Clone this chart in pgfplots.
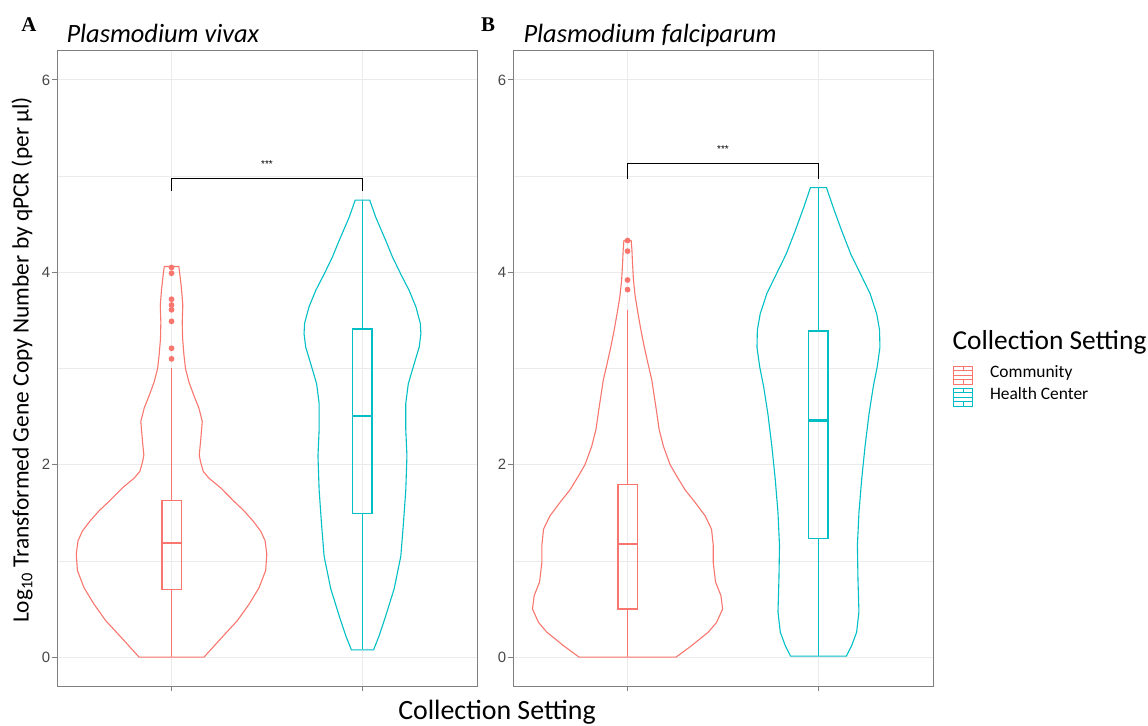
\documentclass[border=0pt]{standalone}
\usepackage{pgfplots}
\usepackage{pgfplotstable}
\pgfplotsset{compat=1.18}
\usepgfplotslibrary{statistics}
\usepackage{fontspec}
\setmainfont{Carlito}
\newfontfamily\tickfont{Liberation Sans}
\newfontfamily\letterfont{Liberation Serif}
\definecolor{comm}{HTML}{F8766D}
\definecolor{hc}{HTML}{00BFC4}
\definecolor{gridc}{HTML}{EBEBEB}
\definecolor{framec}{HTML}{7F7F7F}

% violin outlines: y value and half width (category units)
\pgfplotstableread{
y w
0 0
0 0.170
0.21 0.266
0.38 0.345
0.55 0.406
0.72 0.458
0.90 0.493
1.07 0.499
1.21 0.490
1.31 0.467
1.41 0.429
1.52 0.380
1.62 0.327
1.76 0.257
1.86 0.196
1.93 0.166
2.03 0.152
2.10 0.145
2.24 0.152
2.45 0.161
2.59 0.143
2.72 0.117
2.86 0.091
3.00 0.073
3.14 0.065
3.31 0.058
3.48 0.056
3.66 0.059
3.83 0.052
3.97 0.044
4.06 0.038
4.06 0
}\vivaxComm

\pgfplotstableread{
y w
0.076 0
0.076 0.058
0.22 0.087
0.43 0.122
0.71 0.166
1.05 0.201
1.40 0.215
1.74 0.227
2.09 0.233
2.36 0.227
2.64 0.227
2.84 0.240
3.05 0.271
3.22 0.297
3.36 0.306
3.47 0.303
3.64 0.280
3.81 0.245
3.98 0.201
4.16 0.157
4.33 0.122
4.57 0.070
4.75 0.038
4.75 0
}\vivaxHC

\pgfplotstableread{
y w
0 0
0 0.254
0.12 0.336
0.26 0.423
0.36 0.466
0.50 0.498
0.64 0.489
0.78 0.461
0.98 0.449
1.16 0.449
1.33 0.440
1.47 0.406
1.61 0.353
1.74 0.301
1.88 0.258
2.00 0.223
2.19 0.188
2.37 0.165
2.54 0.153
2.88 0.127
3.06 0.106
3.23 0.087
3.40 0.070
3.58 0.054
3.75 0.040
3.92 0.031
4.09 0.026
4.23 0.023
4.33 0.019
4.33 0
}\falcComm

\pgfplotstableread{
y w
0.01 0
0.01 0.146
0.12 0.174
0.26 0.200
0.47 0.212
0.81 0.207
1.16 0.204
1.50 0.212
1.84 0.226
2.19 0.244
2.53 0.265
2.81 0.287
3.02 0.308
3.22 0.322
3.40 0.320
3.57 0.305
3.78 0.270
3.98 0.221
4.19 0.169
4.43 0.122
4.67 0.078
4.88 0.042
4.88 0
}\falcHC

\pgfplotsset{
  vstyle/.style={
    scale only axis, width=420bp, height=635bp,
    xmin=0.4, xmax=2.6, ymin=-0.3, ymax=6.3,
    xtick={1,2}, xticklabels={}, ytick={0,2,4,6}, minor ytick={1,3,5},
    grid=both,
    major grid style={gridc, line width=1bp},
    minor grid style={gridc, line width=0.6bp},
    axis line style={draw=framec, line width=1bp},
    tick pos=left, tick align=outside,
    major tick length=5bp, minor tick length=0pt,
    tick style={framec, line width=1bp},
    yticklabel style={font=\tickfont\fontsize{15}{18}\selectfont, text=black!72, inner sep=1.5bp},
    /pgf/number format/assume math mode=true,
    boxplot/draw direction=y,
    clip=false,
  },
  vline/.style={line width=1.1bp, forget plot},
  bx/.style={line width=1.1bp, forget plot, mark=*, mark size=2.3bp,
    mark options={solid, fill=#1, draw=#1}, draw=#1},
  boxplot/every median/.style={line width=2.2bp},
  legkey/.style={legend image code/.code={
      \draw[##1, line width=1bp] (0bp,-9bp) rectangle (19bp,9bp);
      \draw[##1, line width=1bp] (0bp,-4.5bp) -- (19bp,-4.5bp);
      \draw[##1, line width=1.6bp] (0bp,0bp) -- (19bp,0bp);
      \draw[##1, line width=1bp] (0bp,4.5bp) -- (19bp,4.5bp);
      \draw[##1, line width=1bp] (9.5bp,-9bp) -- (9.5bp,-4.5bp);
      \draw[##1, line width=1bp] (9.5bp,4.5bp) -- (9.5bp,9bp);
  }},
}

\begin{document}
\begin{tikzpicture}
\useasboundingbox (0,0) rectangle (1148bp,726bp);

% ---------------- Panel A ----------------
\begin{axis}[vstyle, at={(57bp,40bp)}, anchor=south west]
\addplot[comm, vline] table[x expr=1+\thisrow{w}, y=y] {\vivaxComm};
\addplot[comm, vline] table[x expr=1-\thisrow{w}, y=y] {\vivaxComm};
\addplot[hc, vline] table[x expr=2+\thisrow{w}, y=y] {\vivaxHC};
\addplot[hc, vline] table[x expr=2-\thisrow{w}, y=y] {\vivaxHC};
\addplot[bx=comm, boxplot prepared={draw position=1, lower whisker=0,
  lower quartile=0.70, median=1.19, upper quartile=1.63, upper whisker=3.00,
  box extend=0.1, whisker extend=0}]
  table[row sep=\\, y index=0] {data\\4.05\\3.99\\3.72\\3.66\\3.61\\3.49\\3.21\\3.10\\};
\addplot[bx=hc, boxplot prepared={draw position=2, lower whisker=0.08,
  lower quartile=1.49, median=2.51, upper quartile=3.41, upper whisker=4.75,
  box extend=0.1, whisker extend=0}] coordinates {};
\addplot[black, line width=0.8bp, forget plot] coordinates {(1,4.85) (1,4.98) (2,4.98) (2,4.85)};
\node[font=\tickfont\fontsize{10}{12}\selectfont, anchor=base] at (axis cs:1.5,5.09) {***};
\end{axis}

% ---------------- Panel B ----------------
\begin{axis}[vstyle, at={(513bp,40bp)}, anchor=south west,
  legend style={at={(1.04,0.5075)}, anchor=north west, draw=none, fill=none,
    font=\fontsize{17.5}{20}\selectfont, row sep=3bp,
    nodes={inner sep=0.5bp, text depth=0.42em, text height=0.8em},
    /tikz/every even column/.append style={column sep=0bp}},
  legend cell align=left]
\addplot[comm, vline] table[x expr=1+\thisrow{w}, y=y] {\falcComm};
\addplot[comm, vline] table[x expr=1-\thisrow{w}, y=y] {\falcComm};
\addplot[hc, vline] table[x expr=2+\thisrow{w}, y=y] {\falcHC};
\addplot[hc, vline] table[x expr=2-\thisrow{w}, y=y] {\falcHC};
\addplot[bx=comm, boxplot prepared={draw position=1, lower whisker=0,
  lower quartile=0.50, median=1.18, upper quartile=1.79, upper whisker=3.61,
  box extend=0.1, whisker extend=0}]
  table[row sep=\\, y index=0] {data\\4.33\\4.22\\3.92\\3.82\\};
\addplot[bx=hc, boxplot prepared={draw position=2, lower whisker=0.01,
  lower quartile=1.23, median=2.46, upper quartile=3.39, upper whisker=4.88,
  box extend=0.1, whisker extend=0}] coordinates {};
\addplot[black, line width=0.8bp, forget plot] coordinates {(1,4.97) (1,5.13) (2,5.13) (2,4.97)};
\node[font=\tickfont\fontsize{10}{12}\selectfont, anchor=base] at (axis cs:1.5,5.24) {***};
\addlegendimage{legkey, comm}
\addlegendentry{\hspace{16bp}Community}
\addlegendimage{legkey, hc}
\addlegendentry{\hspace{16bp}Health Center}
\end{axis}

% ---------------- texts ----------------
\node[anchor=base west, font=\fontsize{26.5}{30}\selectfont\itshape] at (63bp,683bp) {Plasmodium vivax};
\node[anchor=base west, font=\fontsize{26.5}{30}\selectfont\itshape] at (520bp,683bp) {Plasmodium falciparum};
\node[anchor=base, font=\letterfont\bfseries\fontsize{21}{24}\selectfont] at (29bp,694bp) {A};
\node[anchor=base, font=\letterfont\bfseries\fontsize{21}{24}\selectfont] at (488bp,694bp) {B};
\node[anchor=base, font=\fontsize{28}{32}\selectfont] at (497bp,7bp) {Collection Setting};
\node[rotate=90, font=\fontsize{23.5}{26}\selectfont] at (22bp,366bp) {Log\textsubscript{10} Transformed Gene Copy Number by qPCR (per µl)};
\node[anchor=base west, font=\fontsize{27.5}{30}\selectfont] at (949bp,376bp) {Collection Setting};
\end{tikzpicture}
\end{document}
